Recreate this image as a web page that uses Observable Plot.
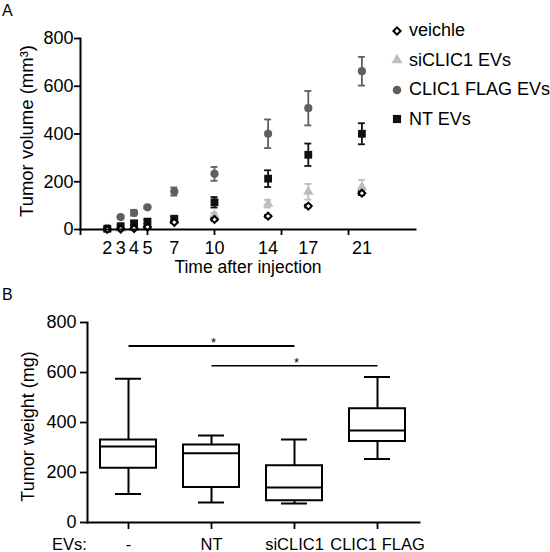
<!DOCTYPE html>
<html><head><meta charset="utf-8">
<script src="https://cdn.jsdelivr.net/npm/d3@7"></script>
<script src="https://cdn.jsdelivr.net/npm/@observablehq/plot@0.6"></script>
<style>
body{margin:0;background:#fff;font-family:"Liberation Sans",Arial,sans-serif;}
#wrap{position:relative;width:550px;height:552px;overflow:hidden;background:#fff;}
.panel{position:absolute;left:0;}
.tag{position:absolute;font-size:16px;color:#000;}
#legend{position:absolute;left:390px;top:16px;font-size:18px;color:#000;}
#legend .item{height:29.5px;display:flex;align-items:center;white-space:nowrap;}
#legend svg{margin-right:5px;}
</style>
</head><body>
<div id="wrap">
  <div id="panelA" class="panel" style="top:0px;"></div>
  <div id="panelB" class="panel" style="top:280px;"></div>
  <div class="tag" style="left:2px;top:2px;">A</div>
  <div class="tag" style="left:2px;top:286px;">B</div>
  <div id="legend"></div>
</div>
<script>
// ---------- Panel A data ----------
const days = [2, 3, 4, 5, 7, 10, 14, 17, 21];
const dayTickMarks = [0, 5, 10, 15, 20];
const volumeTicks = [0, 200, 400, 600, 800];
const seriesNames = ["veichle", "siCLIC1 EVs", "CLIC1 FLAG EVs", "NT EVs"];
const vehicleMean = [0, 2, 4, 10, 30, 42, 56, 98, 152];
const vehicleErr  = [1, 1, 2, 3, 4, 5, 5, 6, 8];
const siMean      = [2, 4, 7, 12, 38, 60, 108, 158, 178];
const siErr       = [1, 2, 3, 4, 6, 10, 16, 33, 30];
const flagMean    = [6, 52, 70, 93, 159, 233, 401, 508, 663];
const flagErr     = [3, 4, 12, 5, 17, 29, 60, 72, 60];
const ntMean      = [3, 14, 26, 33, 45, 114, 213, 313, 401];
const ntErr       = [2, 4, 7, 8, 9, 22, 35, 47, 44];

// ---------- Panel B data ----------
const groups  = ["-", "NT", "siCLIC1", "CLIC1 FLAG"];
const wMin    = [114, 80, 76, 254];
const wQ1     = [217, 140, 87, 324];
const wMedian = [304, 277, 140, 368];
const wQ3     = [330, 310, 227, 455];
const wMax    = [575, 348, 332, 582];
const weightTicks = [0, 200, 400, 600, 800];
const sigFrom  = ["-", "NT"];
const sigTo    = ["siCLIC1", "CLIC1 FLAG"];
const sigLevel = [706, 627];
const sigStarAt = ["NT", "siCLIC1"];
const sigText  = ["*", "*"];

// ---------- styles ----------
const seriesStyle = {
  "veichle":        {symbol: "diamond2", fill: "white",   stroke: "#000", r: 3.1, color: "#000"},
  "siCLIC1 EVs":    {symbol: "triangle", fill: "#bdbdbd", stroke: "none", r: 3.9, color: "#bdbdbd"},
  "CLIC1 FLAG EVs": {symbol: "circle",   fill: "#5f5f5f", stroke: "none", r: 4.1, color: "#5f5f5f"},
  "NT EVs":         {symbol: "square",   fill: "#111",    stroke: "none", r: 4.4, color: "#111"}
};
const drawOrder = ["CLIC1 FLAG EVs", "siCLIC1 EVs", "NT EVs", "veichle"];

const means = [vehicleMean, siMean, flagMean, ntMean];
const errs = [vehicleErr, siErr, flagErr, ntErr];
const rowsA = [];
seriesNames.forEach((s, i) => days.forEach((d, j) => rowsA.push({
  series: s, day: d, mean: means[i][j], lo: means[i][j] - errs[i][j], hi: means[i][j] + errs[i][j]
})));

const font = "Liberation Sans, Arial, sans-serif";
const tickFont = 18;

const seriesMarks = drawOrder.flatMap(s => {
  const st = seriesStyle[s];
  const data = rowsA.filter(r => r.series === s);
  return [
    Plot.ruleX(data, {x: "day", y1: "lo", y2: "hi", stroke: st.color, strokeWidth: 1.8}),
    Plot.ruleY(data, {y: "hi", x1: "day", x2: "day", insetLeft: -3.5, insetRight: -3.5, stroke: st.color, strokeWidth: 1.8}),
    Plot.ruleY(data, {y: "lo", x1: "day", x2: "day", insetLeft: -3.5, insetRight: -3.5, stroke: st.color, strokeWidth: 1.8}),
    Plot.dot(data, {x: "day", y: "mean", symbol: st.symbol, r: st.r, fill: st.fill, stroke: st.stroke, strokeWidth: 2})
  ];
});

const chartA = Plot.plot({
  width: 550, height: 280,
  marginLeft: 80, marginRight: 135, marginTop: 38, marginBottom: 51,
  style: {fontFamily: font, color: "#000", background: "white", overflow: "visible"},
  x: {domain: [0, 25]},
  y: {domain: [0, 800]},
  marks: [
    ...seriesMarks,
    Plot.axisY({ticks: volumeTicks, tickSize: 6, tickPadding: 1, fontSize: tickFont, strokeWidth: 1.8, label: null}),
    Plot.axisX({ticks: dayTickMarks, tickSize: 6, tickFormat: () => "", strokeWidth: 1.8, label: null}),
    Plot.axisX({ticks: days, tickSize: 0, tickPadding: 12, fontSize: tickFont, label: null}),
    Plot.frame({anchor: "left", strokeWidth: 2}),
    Plot.frame({anchor: "bottom", strokeWidth: 2}),
    Plot.text(["Time after injection"], {text: d => d, frameAnchor: "bottom", textAnchor: "middle", lineAnchor: "middle", dy: 38, fontSize: 17.5}),
    Plot.text(["Tumor volume (mm³)"], {text: d => d, frameAnchor: "left", textAnchor: "middle", lineAnchor: "middle", dx: -53, dy: -3, rotate: -90, fontSize: 18.5})
  ]
});
document.getElementById("panelA").appendChild(chartA);

// legend
const legend = d3.select("#legend");
const symMap = {diamond2: d3.symbolDiamond2, triangle: d3.symbolTriangle, circle: d3.symbolCircle, square: d3.symbolSquare};
seriesNames.forEach(s => {
  const st = seriesStyle[s];
  const item = legend.append("div").attr("class", "item");
  const svg = item.append("svg").attr("width", 14).attr("height", 14);
  svg.append("path")
    .attr("transform", "translate(7,7)")
    .attr("d", d3.symbol(symMap[st.symbol], Math.PI * st.r * st.r * 1.1)())
    .attr("fill", st.fill).attr("stroke", st.stroke).attr("stroke-width", 2);
  item.append("span").text(s);
});

// ---------- Panel B ----------
const rowsB = groups.map((g, i) => ({g, min: wMin[i], q1: wQ1[i], median: wMedian[i], q3: wQ3[i], max: wMax[i]}));
const sigRows = sigFrom.map((f, i) => ({from: f, to: sigTo[i], y: sigLevel[i], at: sigStarAt[i], t: sigText[i]}));

const chartB = Plot.plot({
  width: 550, height: 272,
  marginLeft: 87, marginRight: 131, marginTop: 42, marginBottom: 30,
  style: {fontFamily: font, color: "#000", background: "white", overflow: "visible"},
  x: {type: "band", domain: groups, paddingInner: 0.32, paddingOuter: 0.16},
  y: {domain: [0, 800]},
  marks: [
    Plot.ruleX(rowsB, {x: "g", y1: "min", y2: "max", strokeWidth: 2}),
    Plot.tickY(rowsB, {x: "g", y: "min", insetLeft: 15, insetRight: 15, strokeWidth: 2}),
    Plot.tickY(rowsB, {x: "g", y: "max", insetLeft: 15, insetRight: 15, strokeWidth: 2}),
    Plot.barY(rowsB, {x: "g", y1: "q1", y2: "q3", fill: "white", stroke: "#000", strokeWidth: 2}),
    Plot.tickY(rowsB, {x: "g", y: "median", strokeWidth: 2}),
    Plot.link(sigRows.slice(0, 1), {x1: "from", x2: "to", y1: "y", y2: "y", strokeWidth: 2.2}),
    Plot.link(sigRows.slice(1), {x1: "from", x2: "to", y1: "y", y2: "y", strokeWidth: 1.5}),
    Plot.text(sigRows, {x: "at", y: "y", text: "t", fontSize: 13, dx: 2, dy: -3}),
    Plot.axisY({ticks: weightTicks, tickSize: 7, tickPadding: 4, fontSize: tickFont, strokeWidth: 1.8, label: null}),
    Plot.axisX({tickSize: 7, tickPadding: 9, fontSize: 16.5, strokeWidth: 1.8, label: null}),
    Plot.frame({anchor: "left", strokeWidth: 2}),
    Plot.frame({anchor: "bottom", strokeWidth: 2}),
    Plot.text(["EVs:"], {text: d => d, frameAnchor: "bottom-left", textAnchor: "middle", lineAnchor: "middle", dx: -18, dy: 22, fontSize: 16.5}),
    Plot.text(["Tumor weight (mg)"], {text: d => d, frameAnchor: "left", textAnchor: "middle", lineAnchor: "middle", dx: -59, dy: 4, rotate: -90, fontSize: 18})
  ]
});
document.getElementById("panelB").appendChild(chartB);
</script>
</body></html>
